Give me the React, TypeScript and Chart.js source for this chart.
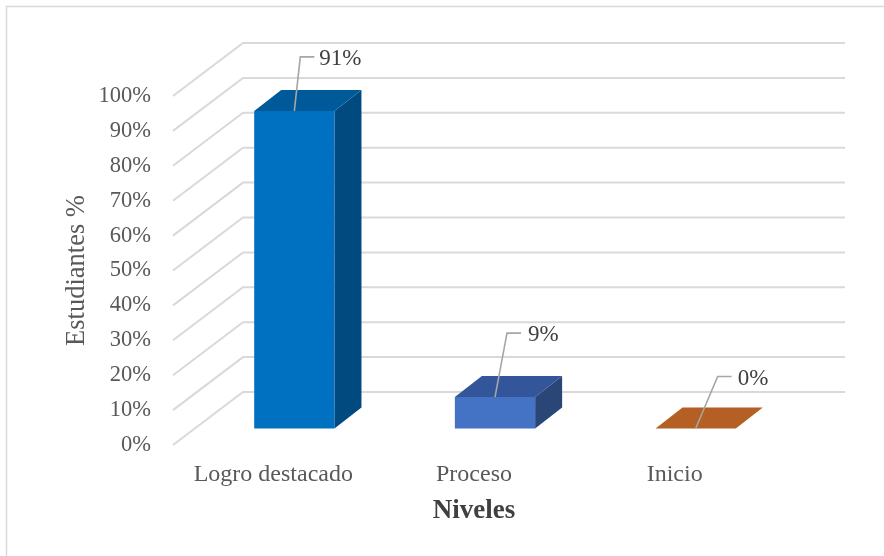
import React, { useEffect, useRef } from "react";
import { Chart, registerables } from "chart.js";

Chart.register(...registerables);

const categories = ["Logro destacado", "Proceso", "Inicio"];
const values = [91, 9, 0];
const yTicks = [0, 10, 20, 30, 40, 50, 60, 70, 80, 90, 100];
const yTitle = "Estudiantes %";
const xTitle = "Niveles";

const frontColors = ["#0070c0", "#4472c4", "#b45f23"];
const topColors = ["#005a9a", "#33569a", "#b45f23"];
const sideColors = ["#004a80", "#294676", "#8a4a1b"];
const leaderOffsets = [
  { dx: 6, dy: -54, run: 14, gap: 5 },
  { dx: 12, dy: -64, run: 14, gap: 7 },
  { dx: 22, dy: -52, run: 14, gap: 6 },
];

const FONT = '"Liberation Serif", "Times New Roman", serif';
const GRID = "#d9d9d9";
const TEXT = "#595959";
const DEPTH_X = 70;
const DEPTH_Y = -53;
const BAR_DX = 21;
const BAR_DY = -16.5;
const BAR_DEPTH_X = 27;
const BAR_DEPTH_Y = -21;

const threeD = {
  id: "threeD",
  beforeDraw(chart: any) {
    const { ctx, width, height } = chart;
    ctx.save();
    ctx.strokeStyle = GRID;
    ctx.lineWidth = 1.5;
    ctx.beginPath();
    ctx.moveTo(6.5, height);
    ctx.lineTo(6.5, 6.5);
    ctx.lineTo(width, 6.5);
    ctx.stroke();
    ctx.restore();
  },
  beforeDatasetsDraw(chart: any) {
    const { ctx, chartArea, scales } = chart;
    ctx.save();
    ctx.strokeStyle = GRID;
    ctx.lineWidth = 2;
    ctx.lineCap = "butt";
    for (const tick of yTicks) {
      const y = scales.y.getPixelForValue(tick);
      ctx.beginPath();
      ctx.moveTo(chartArea.left, y);
      ctx.lineTo(chartArea.left + DEPTH_X, y + DEPTH_Y);
      ctx.lineTo(chartArea.right + DEPTH_X, y + DEPTH_Y);
      ctx.stroke();
    }
    ctx.restore();
  },
  beforeDatasetDraw(chart: any, args: any) {
    const { ctx } = chart;
    const meta = chart.getDatasetMeta(args.index);
    ctx.save();
    ctx.translate(BAR_DX, BAR_DY);
    meta.data.forEach((bar: any, i: number) => {
      const { x, y, base, width } = bar.getProps(["x", "y", "base", "width"], true);
      const l = x - width / 2;
      const r = x + width / 2;
      ctx.fillStyle = sideColors[i];
      ctx.beginPath();
      ctx.moveTo(r, y);
      ctx.lineTo(r + BAR_DEPTH_X, y + BAR_DEPTH_Y);
      ctx.lineTo(r + BAR_DEPTH_X, base + BAR_DEPTH_Y);
      ctx.lineTo(r, base);
      ctx.closePath();
      ctx.fill();
      ctx.fillStyle = topColors[i];
      ctx.beginPath();
      ctx.moveTo(l, y);
      ctx.lineTo(l + BAR_DEPTH_X, y + BAR_DEPTH_Y);
      ctx.lineTo(r + BAR_DEPTH_X, y + BAR_DEPTH_Y);
      ctx.lineTo(r, y);
      ctx.closePath();
      ctx.fill();
    });
  },
  afterDatasetDraw(chart: any) {
    chart.ctx.restore();
  },
  afterDatasetsDraw(chart: any) {
    const { ctx } = chart;
    const meta = chart.getDatasetMeta(0);
    ctx.save();
    meta.data.forEach((bar: any, i: number) => {
      const { x, y } = bar.getProps(["x", "y"], true);
      const o = leaderOffsets[i];
      const sx = x + BAR_DX;
      const sy = y + BAR_DY;
      ctx.strokeStyle = "#a6a6a6";
      ctx.lineWidth = 1.6;
      ctx.beginPath();
      ctx.moveTo(sx, sy);
      ctx.lineTo(sx + o.dx, sy + o.dy);
      ctx.lineTo(sx + o.dx + o.run, sy + o.dy);
      ctx.stroke();
      ctx.fillStyle = "#404040";
      ctx.font = `23px ${FONT}`;
      ctx.textAlign = "left";
      ctx.textBaseline = "middle";
      ctx.fillText(`${values[i]}%`, sx + o.dx + o.run + o.gap, sy + o.dy + 2);
    });
    ctx.restore();
  },
};

export default function App() {
  const ref = useRef<HTMLCanvasElement>(null);
  useEffect(() => {
    const chart = new Chart(ref.current as HTMLCanvasElement, {
      type: "bar",
      data: {
        labels: categories,
        datasets: [
          {
            data: values,
            backgroundColor: frontColors,
            barPercentage: 1,
            categoryPercentage: 0.4,
            clip: false,
          } as any,
        ],
      },
      options: {
        responsive: false,
        animation: false,
        layout: { padding: { left: 0, right: 109, top: 96, bottom: 0 } },
        plugins: { legend: { display: false }, tooltip: { enabled: false } },
        scales: {
          x: {
            afterFit: (s: any) => {
              s.height = 111;
            },
            grid: { display: false, drawTicks: false },
            border: { display: false },
            ticks: { color: TEXT, font: { family: FONT, size: 24 }, padding: 15, maxRotation: 0 },
            title: {
              display: true,
              text: xTitle,
              color: "#404040",
              font: { family: FONT, size: 27, weight: "bold" },
              padding: { top: 0, bottom: 29 },
            },
          },
          y: {
            min: 0,
            max: 100,
            afterFit: (s: any) => {
              s.width = 173;
            },
            afterBuildTicks: (s: any) => {
              s.ticks = yTicks.map((value) => ({ value }));
            },
            grid: { display: false, drawTicks: false },
            border: { display: false },
            ticks: {
              color: TEXT,
              font: { family: FONT, size: 22.5 },
              padding: 22,
              callback: (v: any) => `${v}%`,
            },
            title: {
              display: true,
              text: yTitle,
              color: TEXT,
              font: { family: FONT, size: 26.5 },
              padding: { top: 61, bottom: 0 },
            },
          },
        },
      },
      plugins: [threeD],
    } as any);
    return () => chart.destroy();
  }, []);
  return (
    <canvas
      ref={ref}
      width={884}
      height={556}
      style={{ position: "fixed", left: 0, top: 0, width: 884, height: 556, background: "#fff" }}
    />
  );
}
